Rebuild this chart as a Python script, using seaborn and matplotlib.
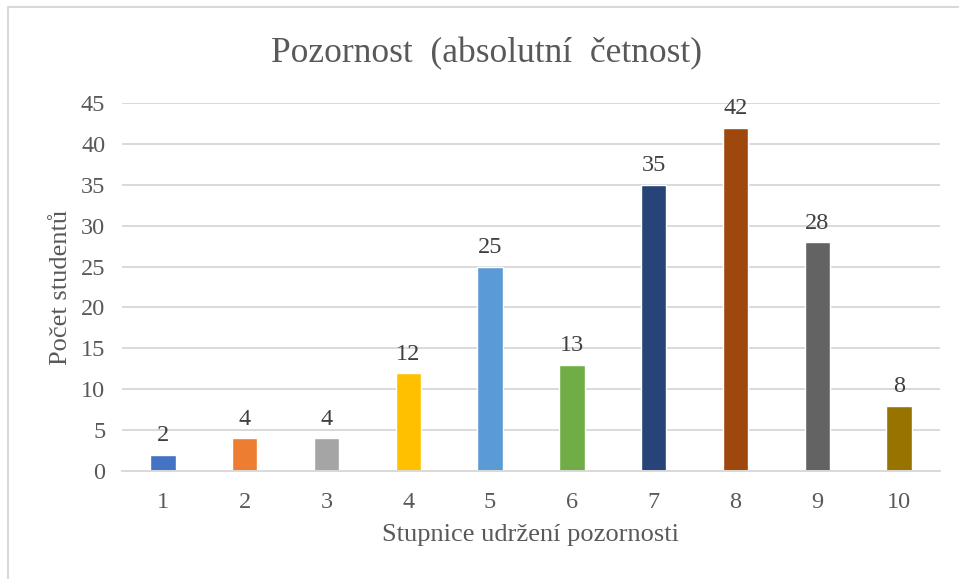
import matplotlib
matplotlib.use("Agg")
import matplotlib.pyplot as plt
import seaborn as sns
import pandas as pd
from matplotlib.patches import Rectangle

stupne = ["1", "2", "3", "4", "5", "6", "7", "8", "9", "10"]
pocty = [2, 4, 4, 12, 25, 13, 35, 42, 28, 8]
barvy = ["#4472C4", "#ED7D31", "#A5A5A5", "#FFC000", "#5B9BD5",
         "#70AD47", "#264478", "#9E480E", "#636363", "#997300"]

df = pd.DataFrame({"stupen": stupne, "pocet": pocty})

sns.set_style("white")
plt.rcParams["font.family"] = ["Liberation Serif", "DejaVu Serif"]
seda = "#595959"

fig = plt.figure(figsize=(9.59, 5.79), dpi=100)
ax = fig.add_axes([0.1272, 0.1865, 0.853, 0.6356])

sns.barplot(data=df, x="stupen", y="pocet", hue="stupen", palette=barvy,
            legend=False, width=0.31, saturation=1, ax=ax)

ax.set_ylim(0, 45)
ax.set_xlim(-0.5, 9.5)
ax.set_yticks(range(0, 46, 5))
ax.yaxis.grid(True, color="#D9D9D9", linewidth=1.4)
ax.set_axisbelow(True)
for s in ["top", "right", "left"]:
    ax.spines[s].set_visible(False)
ax.spines["bottom"].set_color("#D9D9D9")
ax.spines["bottom"].set_linewidth(1.4)
ax.tick_params(axis="both", length=0, labelsize=17.5, colors=seda, pad=12)
ax.tick_params(axis="x", pad=15)

for cont in ax.containers:
    ax.bar_label(cont, fontsize=17.5, color="#404040", padding=6)

ax.set_xlabel("Stupnice udržení pozornosti", fontsize=19, color=seda, labelpad=8)
ax.set_ylabel("Počet studentů", fontsize=19, color=seda, labelpad=6)
fig.text(0.507, 0.908, "Pozornost  (absolutní  četnost)", fontsize=25.5,
         color=seda, ha="center", va="center")

fig.patches.append(Rectangle((8 / 959, -0.1), 1.2, 1 - 7 / 579 + 0.1,
                             transform=fig.transFigure, fill=False,
                             edgecolor="#D9D9D9", linewidth=1.5))

fig.savefig("out.png", dpi=100)
